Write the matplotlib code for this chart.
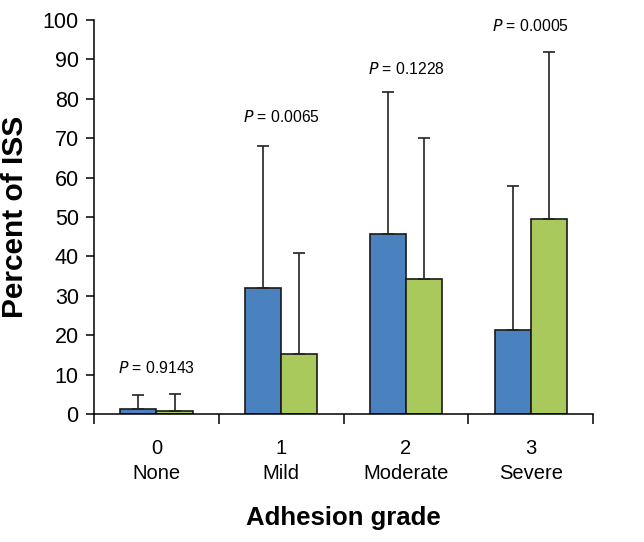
import matplotlib
matplotlib.use('Agg')
import matplotlib.pyplot as plt
import numpy as np

# adhesion grade groups
grades = ['0\nNone', '1\nMild', '2\nModerate', '3\nSevere']
blue_vals = [1.3, 32.1, 45.7, 21.4]
blue_err = [3.5, 35.9, 36.0, 36.6]
green_vals = [0.8, 15.2, 34.4, 49.6]
green_err = [4.4, 25.7, 35.6, 42.2]
p_labels = ['0.9143', '0.0065', '0.1228', '0.0005']
p_heights = [11.7, 75.4, 87.6, 98.5]

BLUE = '#4A81BF'
GREEN = '#A9C95C'

plt.rcParams['font.family'] = ['Liberation Sans', 'DejaVu Sans']

fig = plt.figure(figsize=(6.44, 5.42), dpi=100)
ax = fig.add_axes([0.146, 0.236, 0.775, 0.727])

x = np.arange(len(grades))
w = 0.29
err_kw = dict(ecolor='#222222', elinewidth=1.2, capsize=4, capthick=1.2)
ax.bar(x - w / 2, blue_vals, w, color=BLUE, edgecolor='#1a1a1a', linewidth=1.2,
       yerr=[np.zeros(4), blue_err], error_kw=err_kw, zorder=2)
ax.bar(x + w / 2, green_vals, w, color=GREEN, edgecolor='#1a1a1a', linewidth=1.2,
       yerr=[np.zeros(4), green_err], error_kw=err_kw, zorder=2)

for xi, p, h in zip(x, p_labels, p_heights):
    ax.text(xi, h, r'$\it{P}$ = ' + p, ha='center', va='center', fontsize=11.3)

ax.set_xlim(-0.5, 3.5)
ax.set_ylim(0, 100)
ax.set_yticks(np.arange(0, 101, 10))
ax.tick_params(axis='y', labelsize=15.5, length=6, width=1.1, pad=5)

ax.set_xticks(np.arange(-0.5, 3.6, 1))
ax.set_xticklabels([])
ax.set_xticks(x, minor=True)
ax.set_xticklabels(grades, minor=True, linespacing=1.38)
ax.tick_params(axis='x', which='major', length=7, width=1.1, direction='out')
ax.tick_params(axis='x', which='minor', length=0, labelsize=14.5, pad=18)

for s in ['top', 'right']:
    ax.spines[s].set_visible(False)
for s in ['left', 'bottom']:
    ax.spines[s].set_linewidth(1.1)

ax.set_ylabel('Percent of ISS', fontsize=21.5, fontweight='bold', labelpad=10)
ax.set_xlabel('Adhesion grade', fontsize=18.5, fontweight='bold', labelpad=17)

fig.savefig('out.png', dpi=100)
